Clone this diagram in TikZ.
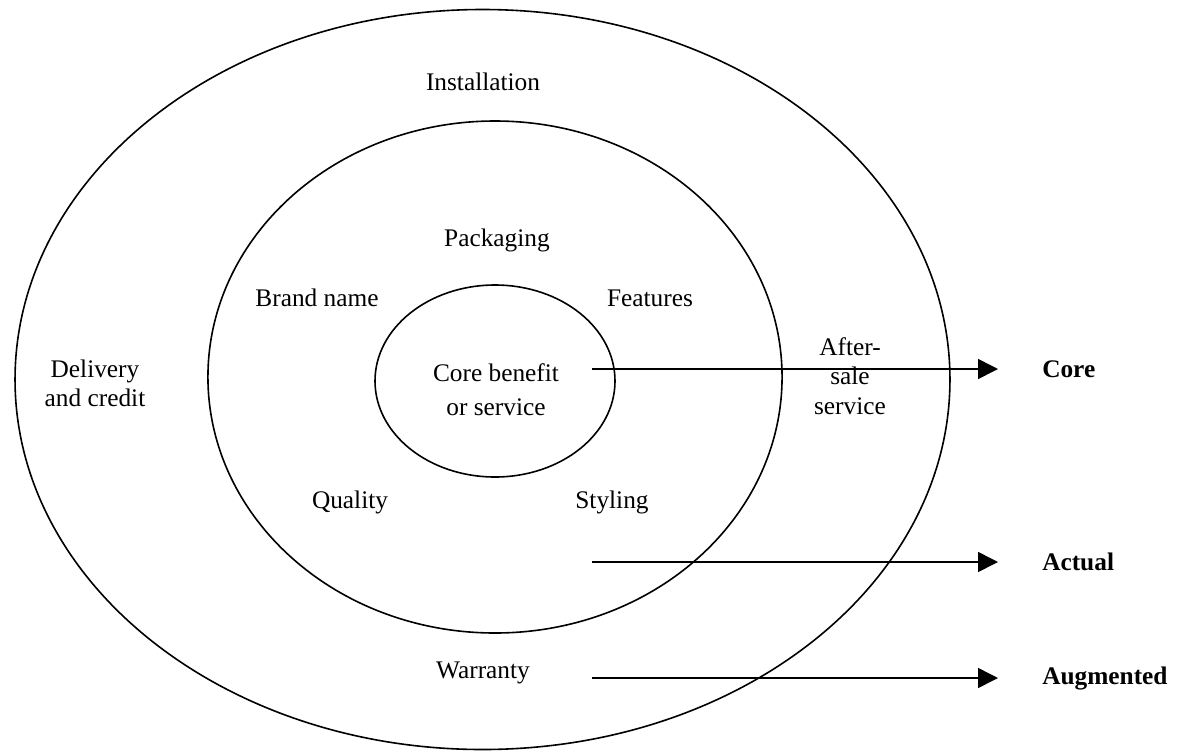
\documentclass[tikz,border=0pt]{standalone}
\usepackage{fontspec}
\setmainfont{Liberation Serif}
\usetikzlibrary{arrows.meta}

\tikzset{
  ring/.style={line width=1.2pt},
  lbl/.style={font=\fontsize{19}{22}\selectfont, align=center, inner sep=0pt},
  level/.style={font=\fontsize{19}{22}\selectfont\bfseries, anchor=west, inner sep=0pt},
  pointer/.style={line width=1.2pt, -{Triangle[length=15pt,width=15pt]}, shorten >=33pt}
}

\begin{document}
\begin{tikzpicture}[x=0.75pt,y=-0.75pt]
\useasboundingbox (0,0) rectangle (1190,751);

% Draw the three rings
\draw[ring] (482.5,379.5) ellipse [x radius=350.6pt, y radius=277.5pt];
\draw[ring] (495,377) ellipse [x radius=215.3pt, y radius=192pt];
\draw[ring] (495,381) ellipse [x radius=90pt, y radius=72pt];

% Labels inside the rings
\node[lbl] (install) at (483,82) {Installation};
\node[lbl] (pack) at (497,240) {Packaging};
\node[lbl] (brand) at (317,298) {Brand name};
\node[lbl] (feat) at (650,298) {Features};
\node[lbl] (deliv) at (95,383) {Delivery\\and credit};
\node[lbl, font=\fontsize{19}{25.5}\selectfont] (benefit) at (496,390) {Core benefit\\or service};
\node[lbl] (after) at (850,376) {After-\\sale\\service};
\node[lbl] (quality) at (350,502) {Quality};
\node[lbl] (styling) at (612,502) {Styling};
\node[lbl] (warranty) at (483,673) {Warranty};

% Level names on the right
\node[level] (core) at (1042,369) {Core};
\node[level] (actual) at (1042,562) {Actual};
\node[level] (augm) at (1042,678) {Augmented};

% Pointers to the level names
\coordinate (p1) at (592,369);
\coordinate (p2) at (592,562);
\coordinate (p3) at (592,678);
\draw[pointer] (p1) -- (core.west);
\draw[pointer] (p2) -- (actual.west);
\draw[pointer] (p3) -- (augm.west);

\end{tikzpicture}
\end{document}
